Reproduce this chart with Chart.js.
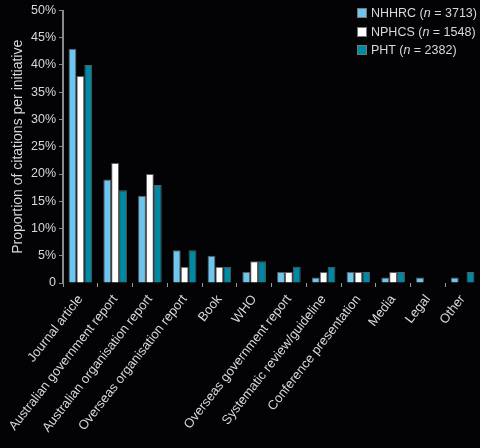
<!DOCTYPE html>
<html>
<head>
<meta charset="utf-8">
<script src="https://cdn.jsdelivr.net/npm/chart.js@4"></script>
<style>
  html, body { margin: 0; padding: 0; background: #030306; }
  #wrap { position: relative; width: 480px; height: 448px; }
  #legend { position: absolute; left: 357px; top: 4px; font-family: 'Liberation Sans', Arial, sans-serif;
            font-size: 12.5px; color: #d8d8d8; line-height: 18.5px; }
  #legend .box { display: inline-block; width: 8px; height: 8px; border: 1px solid #777;
                 margin-right: 4px; vertical-align: -1px; }
</style>
</head>
<body>
<div id="wrap">
  <canvas id="chart" width="480" height="448"></canvas>
  <div id="legend"></div>
</div>
<script>
const categories = ['Journal article', 'Australian government report', 'Australian organisation report',
    'Overseas organisation report', 'Book', 'WHO', 'Overseas government report',
    'Systematic review/guideline', 'Conference presentation', 'Media', 'Legal', 'Other'];
const nhhrc = [43, 19, 16, 6, 5, 2, 2, 1, 2, 1, 1, 1];
const nphcs = [38, 22, 20, 3, 3, 4, 2, 2, 2, 2, 0, 0];
const pht = [40, 17, 18, 6, 3, 4, 3, 3, 2, 2, 0, 2];
const seriesNames = ['NHHRC', 'NPHCS', 'PHT'];
const seriesN = ['3713', '1548', '2382'];
const colors = ['#6ec6ee', '#ffffff', '#0089a3'];

const font = "'Liberation Sans', Arial, sans-serif";
const textColor = '#d8d8d8';

const legend = document.getElementById('legend');
seriesNames.forEach((name, i) => {
    const row = document.createElement('div');
    row.innerHTML = '<span class="box" style="background:' + colors[i] + '"></span>' +
        name + ' (<i>n</i> = ' + seriesN[i] + ')';
    legend.appendChild(row);
});

new Chart(document.getElementById('chart'), {
    type: 'bar',
    data: {
        labels: categories,
        datasets: [nhhrc, nphcs, pht].map((values, i) => ({
            label: seriesNames[i] + ' (n = ' + seriesN[i] + ')',
            data: values,
            backgroundColor: colors[i],
            borderColor: '#5c5c5c',
            borderWidth: 1,
            categoryPercentage: 0.68,
            barPercentage: 1
        }))
    },
    options: {
        responsive: false,
        animation: false,
        layout: { padding: { top: 8, right: 0, left: 0, bottom: 0 } },
        plugins: {
            legend: { display: false },
            tooltip: { enabled: false }
        },
        scales: {
            x: {
                offset: true,
                border: { display: false },
                grid: { drawOnChartArea: false, drawTicks: true, tickLength: 4, color: '#9a9a9a', offset: true },
                ticks: {
                    color: textColor,
                    font: { family: font, size: 13 },
                    autoSkip: false,
                    minRotation: 52,
                    maxRotation: 52,
                    padding: 5
                },
                afterFit: scale => { scale.height = 165; }
            },
            y: {
                min: 0,
                max: 50,
                border: { display: true, color: '#8a8a8a', width: 2 },
                grid: { drawOnChartArea: false, drawTicks: true, tickLength: 4, color: '#8a8a8a' },
                ticks: {
                    stepSize: 5,
                    color: textColor,
                    font: { family: font, size: 12.5 },
                    padding: 3,
                    callback: v => v === 0 ? '0' : v + '%'
                },
                title: {
                    display: true,
                    text: 'Proportion of citations per initiative',
                    color: textColor,
                    font: { family: font, size: 14 },
                    padding: { top: 10, bottom: 2 }
                },
                afterFit: scale => { scale.width = 63; }
            }
        }
    }
});
</script>
</body>
</html>
